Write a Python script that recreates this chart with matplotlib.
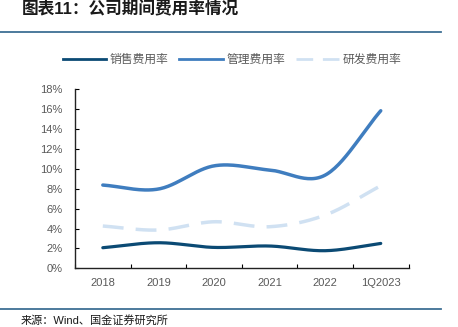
import numpy as np
import matplotlib
matplotlib.use('Agg')
import matplotlib.pyplot as plt
from matplotlib.lines import Line2D

plt.rcParams['font.family'] = ['Liberation Sans', 'Noto Sans CJK SC']

# data (%)
periods = ['2018', '2019', '2020', '2021', '2022', '1Q2023']
sales_rate = [2.07, 2.57, 2.10, 2.24, 1.77, 2.50]
admin_rate = [8.37, 7.97, 10.30, 9.88, 9.37, 15.84]
rd_rate = [4.25, 3.85, 4.68, 4.18, 5.35, 8.30]

series_names = ['销售费用率', '管理费用率', '研发费用率']
colors = ['#0b4a74', '#3f7dbf', '#d0e1f2']


# smooth curve through the points (Catmull-Rom), like the office chart smoothing
def smooth(xs, ys, n=30):
    xs = np.asarray(xs, float)
    ys = np.asarray(ys, float)
    px = np.concatenate([[2 * xs[0] - xs[1]], xs, [2 * xs[-1] - xs[-2]]])
    py = np.concatenate([[2 * ys[0] - ys[1]], ys, [2 * ys[-1] - ys[-2]]])
    out_x, out_y = [], []
    t = np.linspace(0, 1, n)
    for i in range(1, len(px) - 2):
        for p, out in ((px, out_x), (py, out_y)):
            p0, p1, p2, p3 = p[i - 1], p[i], p[i + 1], p[i + 2]
            out.extend(0.5 * (2 * p1 + (-p0 + p2) * t
                              + (2 * p0 - 5 * p1 + 4 * p2 - p3) * t ** 2
                              + (-p0 + 3 * p1 - 3 * p2 + p3) * t ** 3))
    return np.array(out_x), np.array(out_y)


fig = plt.figure(figsize=(4.58, 3.27), dpi=100)
ax = fig.add_axes([0.1638, 0.1795, 0.892 - 0.1638, 0.727 - 0.1795])

x = np.arange(len(periods))
ax.plot(*smooth(x, sales_rate), color=colors[0], lw=2.3, solid_capstyle='round')
ax.plot(*smooth(x, admin_rate), color=colors[1], lw=2.5, solid_capstyle='round')
ax.plot(*smooth(x, rd_rate), color=colors[2], lw=2.5, dashes=(6, 3.5))

ax.set_xlim(-0.5, len(periods) - 0.5)
ax.set_ylim(0, 18)
ax.set_yticks(np.arange(0, 19, 2))
ax.set_yticklabels([f'{v}%' for v in range(0, 19, 2)])
ax.set_xticks(x)
ax.set_xticklabels(periods)
ax.set_xticks(np.arange(-0.5, len(periods)), minor=True)
ax.tick_params(axis='x', which='major', length=0, pad=7, labelsize=8, labelcolor='#595959')
ax.tick_params(axis='x', which='minor', direction='in', length=3, width=0.8)
ax.tick_params(axis='y', direction='in', length=3, width=0.8, pad=9, labelsize=8, labelcolor='#595959')
for side in ['top', 'right']:
    ax.spines[side].set_visible(False)
for side in ['left', 'bottom']:
    ax.spines[side].set_linewidth(1.0)
    ax.spines[side].set_color('#222222')

handles = [Line2D([], [], color=colors[0], lw=2.0),
           Line2D([], [], color=colors[1], lw=2.0),
           Line2D([], [], color=colors[2], lw=2.0, dashes=(6, 3.5))]
fig.legend(handles, series_names, loc='center', bbox_to_anchor=(0.507, 0.817), ncol=3,
           frameon=False, fontsize=8.5, labelcolor='#595959', handlelength=3.7,
           handletextpad=0.3, columnspacing=0.9)

# title, rules and source
fig.text(0.048, 0.972, '图表11：公司期间费用率情况', fontsize=12, fontweight='bold',
         color='#1a1a1a', va='center', ha='left')
fig.add_artist(Line2D([0, 441 / 458], [1 - 31.7 / 327] * 2, color='#3e6f94', lw=1.3))
fig.add_artist(Line2D([0, 441 / 458], [1 - 309 / 327] * 2, color='#3e6f94', lw=1.3))
fig.text(0.046, 1 - 320 / 327, '来源：Wind、国金证券研究所', fontsize=8, color='#1a1a1a',
         va='center', ha='left')

fig.savefig('out.png', dpi=100)
